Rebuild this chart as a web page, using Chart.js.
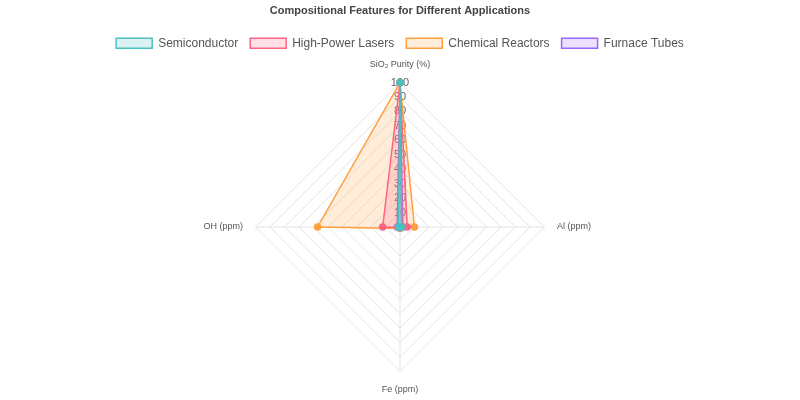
<!DOCTYPE html>
<html><head><meta charset="utf-8">
<script src="https://cdn.jsdelivr.net/npm/chart.js@4"></script>
<style>html,body{margin:0;background:#fff}#w{width:800px;height:400px}</style>
</head><body><div id="w"><canvas id="c"></canvas></div>
<script>
const labels = ['SiO₂ Purity (%)', 'Al (ppm)', 'Fe (ppm)', 'OH (ppm)'];
const semiconductor = [99.99, 1, 0.5, 1];
const lasers = [99.99, 5, 0.5, 12];
const chemical = [99.9, 10, 1, 57];
const furnace = [99.9, 2, 0.5, 2];
const mk = (label, data, c) => ({label, data, borderColor: `rgba(${c},1)`, backgroundColor: `rgba(${c},0.2)`, pointBackgroundColor: `rgba(${c},1)`, borderWidth: 1.5, pointRadius: 3});
new Chart(document.getElementById('c'), {
  type: 'radar',
  data: {labels, datasets: [
    mk('Semiconductor', semiconductor, '75,192,192'),
    mk('High-Power Lasers', lasers, '255,99,132'),
    mk('Chemical Reactors', chemical, '255,159,64'),
    mk('Furnace Tubes', furnace, '153,102,255')
  ]},
  options: {
    responsive: true, maintainAspectRatio: false, animation: false,
    layout: {padding: {bottom: 4}},
    plugins: {
      title: {display: true, text: 'Compositional Features for Different Applications', font: {size: 11, weight: 'bold'}, color: '#444', padding: {top: 4, bottom: 8}},
      legend: {labels: {font: {size: 12}, color: '#555', boxWidth: 36, boxHeight: 10, padding: 12}}
    },
    scales: {r: {min: 0, max: 100, ticks: {stepSize: 10, backdropColor: 'rgba(0,0,0,0)', color: '#666', font: {size: 11}},
      pointLabels: {font: {size: 9}, color: '#555'}, grid: {color: '#e4e4e4'}, angleLines: {color: '#e4e4e4'}}}
  }
});
</script></body></html>
